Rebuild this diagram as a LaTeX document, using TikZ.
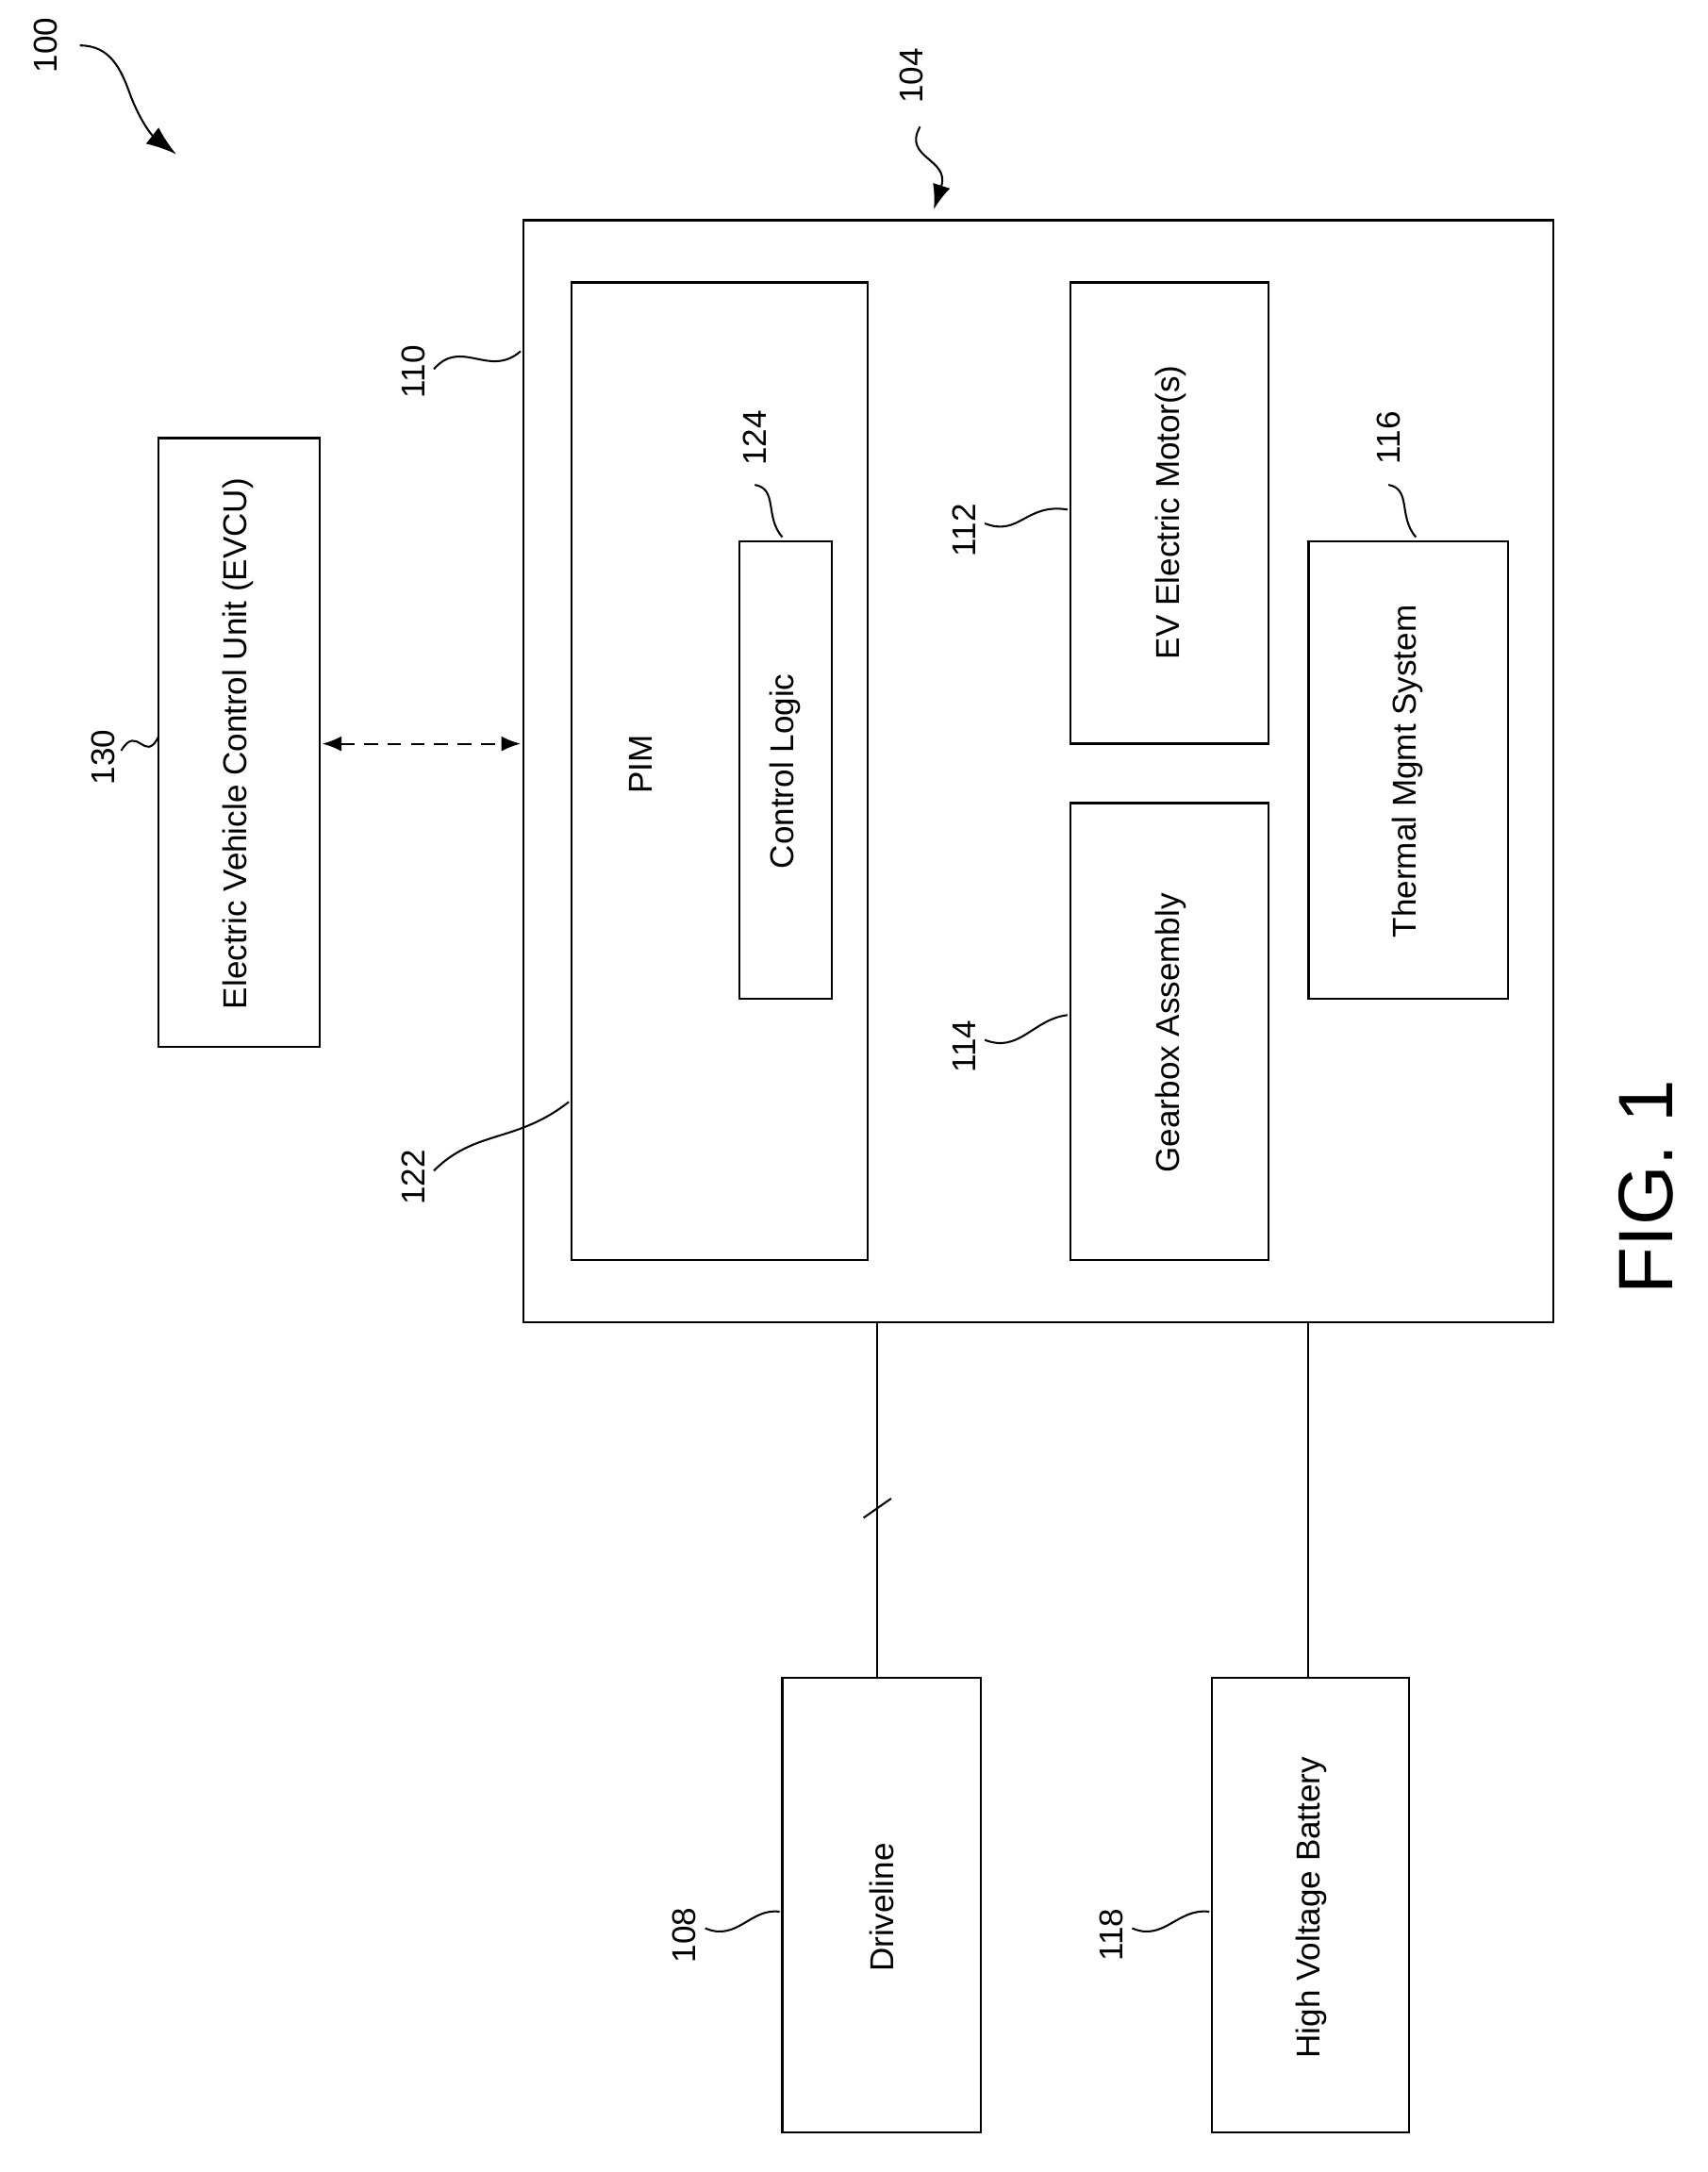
\documentclass[tikz,border=0pt]{standalone}
\usepackage{fontspec}
\setmainfont{Liberation Sans}
\usetikzlibrary{arrows.meta}
\begin{document}
\begin{tikzpicture}[x=1pt,y=-1pt,
 box/.style={draw,line width=1.6pt},
 txt/.style={rotate=90,font=\fontsize{24}{27}\selectfont},
 lbl/.style={rotate=90,font=\fontsize{24}{27}\selectfont},
 lead/.style={line width=1.4pt}]
\useasboundingbox (0,0) rectangle (1240,1577);
\draw[box] (380,160) rectangle (1128,960);
\draw[box] (415,205) rectangle (630,915);
\draw[box] (537,393) rectangle (604,725);
\draw[box] (777,205) rectangle (921,540);
\draw[box] (777,583) rectangle (921,915);
\draw[box] (950,393) rectangle (1095,725);
\draw[box] (115,318) rectangle (232,760);
\draw[box] (568,1218) rectangle (712,1548);
\draw[box] (880,1218) rectangle (1023,1548);
\node[txt] at (465,555) {PIM};
\node[txt] at (570,560) {Control Logic};
\node[txt] at (850,372) {EV Electric Motor(s)};
\node[txt] at (850,750) {Gearbox Assembly};
\node[txt] at (1022,560) {Thermal Mgmt System};
\node[txt] at (173,540) {Electric Vehicle Control Unit (EVCU)};
\node[txt] at (640,1385) {Driveline};
\node[txt] at (952,1385) {High Voltage Battery};
\draw[lead] (637,960) -- (637,1218);
\draw[lead] (627,1102) -- (647,1088);
\draw[lead] (950,960) -- (950,1218);
\draw[lead,dashed,dash pattern=on 10pt off 7pt,{Latex[length=14pt,width=11pt]}-{Latex[length=14pt,width=11pt]}] (234,540) -- (378,540);
% labels
\node[lbl] at (75,550) {130};
\draw[lead] (88,545) .. controls (100,525) and (105,555) .. (115,535);
\node[lbl] at (300,270) {110};
\draw[lead] (315,268) .. controls (335,245) and (355,275) .. (378,255);
\node[lbl] at (300,855) {122};
\draw[lead] (315,850) .. controls (345,820) and (375,830) .. (413,800);
\node[lbl] at (548,318) {124};
\draw[lead] (548,352) .. controls (565,355) and (555,375) .. (568,390);
\node[lbl] at (700,385) {112};
\draw[lead] (715,380) .. controls (740,390) and (745,365) .. (775,370);
\node[lbl] at (700,760) {114};
\draw[lead] (715,755) .. controls (740,765) and (750,740) .. (775,737);
\node[lbl] at (1008,318) {116};
\draw[lead] (1008,352) .. controls (1025,355) and (1015,375) .. (1028,390);
\node[lbl] at (497,1405) {108};
\draw[lead] (512,1400) .. controls (535,1410) and (545,1385) .. (566,1388);
\node[lbl] at (807,1405) {118};
\draw[lead] (822,1400) .. controls (845,1410) and (855,1385) .. (878,1388);
\node[lbl] at (662,55) {104};
\draw[lead,-{Latex[length=18pt,width=13pt]}] (668,92) .. controls (655,115) and (690,115) .. (678,152);
\node[lbl] at (33,33) {100};
\draw[lead,-{Latex[length=22pt,width=15pt]}] (58,33) .. controls (80,33) and (88,50) .. (95,70) .. controls (102,88) and (110,98) .. (128,112);
\node[rotate=90,font=\fontsize{56}{64}\selectfont] at (1195,862) {FIG. 1};
\end{tikzpicture}
\end{document}
